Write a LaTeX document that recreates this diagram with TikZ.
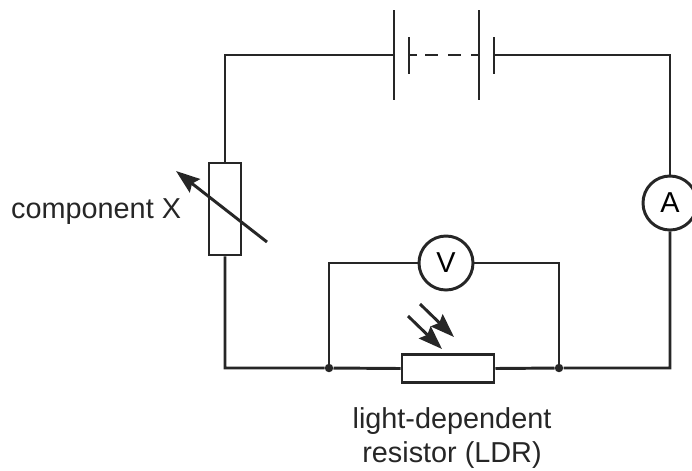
\documentclass[tikz,border=0pt]{standalone}
\usepackage{fontspec}
\setmainfont{Liberation Sans}
\usetikzlibrary{arrows.meta}

\begin{document}
\begin{tikzpicture}[x=0.025cm, y=-0.025cm]
\tikzset{fil/.style={line width=2.1pt, draw=black!85},
  resist/.style={fil, draw, rectangle, inner sep=0pt, fill=white},
  meter/.style={fil, draw, circle, minimum size=1.35cm, inner sep=0pt, font=\fontsize{20.5}{24}\selectfont},
  junc/.style={circle, fill=black!85, minimum size=6pt, inner sep=0pt},
  fleche/.style={fil, -{Stealth[length=17pt, width=12pt, inset=2.5pt]}},
  legende/.style={font=\fontsize{20.5}{24}\selectfont, text=black!85}}
\useasboundingbox (0, 0) rectangle (692, 470);
\coordinate (TL) at (225, 55);
\coordinate (TR) at (670, 55);
\coordinate (BL) at (225, 368);
\coordinate (BR) at (670, 368);
\coordinate (B1) at (394, 55);
\coordinate (B2) at (494, 55);
\node[resist, minimum width=0.8cm, minimum height=2.3cm] (X) at (225, 209) {};
\node[resist, minimum width=2.3cm, minimum height=0.72cm] (LDR) at (448, 368.5) {};
\node[meter] (A) at (670, 203) {A};
\node[meter] (V) at (446, 263) {V};
\node[junc] (J1) at (329, 368) {};
\node[junc] (J2) at (559, 368) {};
% battery
\draw[fil] (394, 10) -- (394, 100);
\draw[fil] (409, 37) -- (409, 74);
\draw[fil] (479, 10) -- (479, 100);
\draw[fil] (494, 37) -- (494, 74);
\draw[fil] (409, 55) -- (417, 55);
\draw[fil] (425, 55) -- (438, 55);
\draw[fil] (448, 55) -- (461, 55);
\draw[fil] (471, 55) -- (479, 55);
% wires
\draw[fil] (B1) -- (TL) -- (X.north);
\draw[fil] (X.south) -- (BL) -- (J1) -- (LDR.west);
\draw[fil] (LDR.east) -- (J2) -- (BR) -- (A.south);
\draw[fil] (A.north) -- (TR) -- (B2);
\draw[fil] (J1) |- (V.west);
\draw[fil] (J2) |- (V.east);
% arrows
\draw[fleche] (267, 242) -- (176, 171);
\draw[fleche] (408, 316) -- (442, 349);
\draw[fleche] (420, 304) -- (454, 337);
% labels
\node[legende, anchor=east] (compX) at (186, 212) {component X};
\node[legende, align=center] (lbl) at (452, 438) {light-dependent\\resistor (LDR)};
\end{tikzpicture}
\end{document}
